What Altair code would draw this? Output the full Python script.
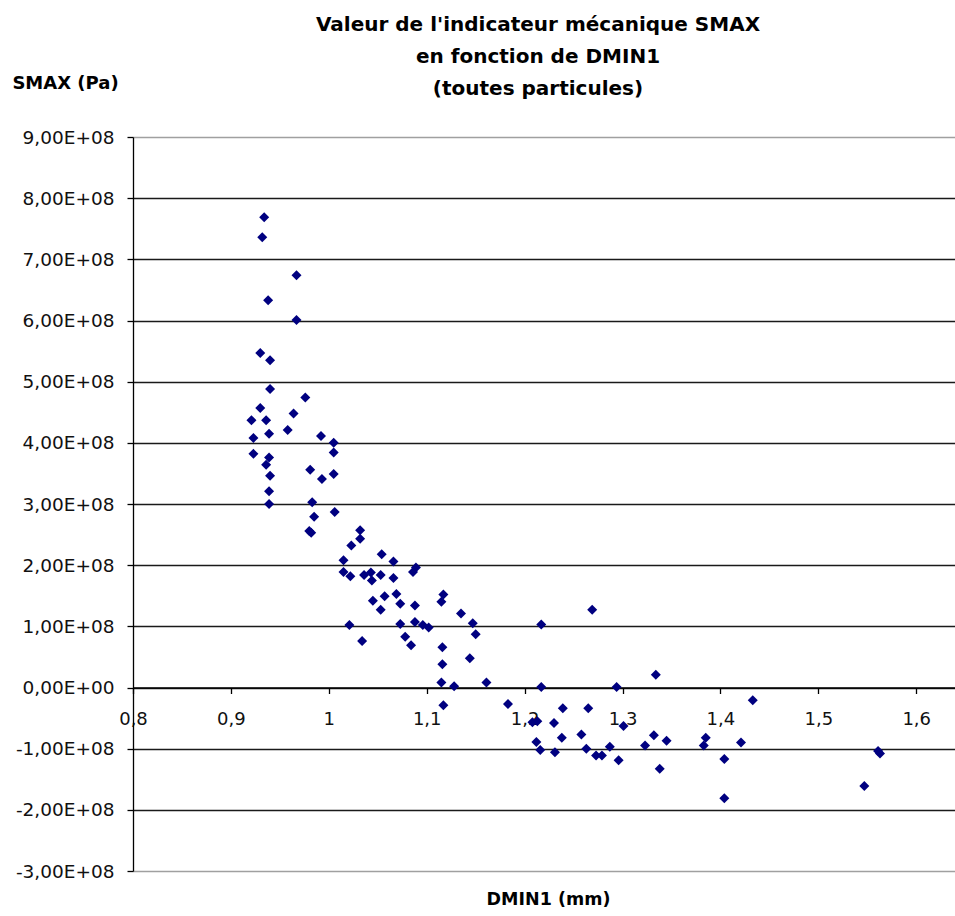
import altair as alt
import pandas as pd

# DMIN1 (mm) and SMAX (Pa) for every particle
dmin1 = [
    0.934, 0.932, 0.967, 0.938, 0.967, 0.930, 0.940, 0.940, 0.976, 0.930,
    0.964, 0.921, 0.936, 0.958, 0.939, 0.923, 0.992, 1.005, 1.005, 0.923,
    0.939, 0.936, 0.981, 0.940, 0.993, 1.005, 0.939, 0.939, 0.983, 0.985,
    1.006, 0.980, 0.982, 1.032, 1.032, 1.023, 1.054, 1.015, 1.066, 1.089,
    1.086, 1.015, 1.022, 1.036, 1.043, 1.044, 1.053, 1.066, 1.069, 1.057,
    1.045, 1.073, 1.088, 1.053, 1.117, 1.115, 1.135, 1.021, 1.073, 1.088,
    1.096, 1.102, 1.147, 1.150, 1.034, 1.078, 1.084, 1.116, 1.116, 1.144,
    1.115, 1.128, 1.161, 1.117, 1.183, 1.269, 1.217, 1.217, 1.294, 1.334,
    1.239, 1.265, 1.208, 1.213, 1.230, 1.301, 1.212, 1.238, 1.258, 1.332,
    1.345, 1.216, 1.231, 1.263, 1.273, 1.279, 1.287, 1.296, 1.323, 1.338,
    1.433, 1.385, 1.383, 1.421, 1.404, 1.404, 1.561, 1.563, 1.547,
]
smax = [
    7.69e8, 7.36e8, 6.74e8, 6.33e8, 6.01e8, 5.47e8, 5.35e8, 4.88e8, 4.74e8, 4.57e8,
    4.48e8, 4.37e8, 4.37e8, 4.21e8, 4.15e8, 4.08e8, 4.11e8, 4.00e8, 3.84e8, 3.82e8,
    3.76e8, 3.64e8, 3.56e8, 3.46e8, 3.41e8, 3.49e8, 3.21e8, 3.00e8, 3.03e8, 2.79e8,
    2.87e8, 2.56e8, 2.53e8, 2.57e8, 2.43e8, 2.32e8, 2.18e8, 2.08e8, 2.06e8, 1.96e8,
    1.89e8, 1.89e8, 1.82e8, 1.84e8, 1.88e8, 1.75e8, 1.84e8, 1.79e8, 1.53e8, 1.49e8,
    1.42e8, 1.37e8, 1.34e8, 1.27e8, 1.52e8, 1.40e8, 1.21e8, 1.02e8, 1.04e8, 1.07e8,
    1.02e8, 0.98e8, 1.05e8, 0.87e8, 0.76e8, 0.83e8, 0.69e8, 0.66e8, 0.38e8, 0.48e8,
    0.08e8, 0.02e8, 0.08e8, -0.29e8, -0.27e8, 1.27e8, 1.03e8, 0.01e8, 0.01e8, 0.21e8,
    -0.34e8, -0.34e8, -0.57e8, -0.55e8, -0.58e8, -0.63e8, -0.89e8, -0.82e8, -0.77e8, -0.78e8,
    -0.87e8, -1.02e8, -1.06e8, -1.00e8, -1.11e8, -1.11e8, -0.97e8, -1.19e8, -0.95e8, -1.33e8,
    -0.21e8, -0.82e8, -0.95e8, -0.90e8, -1.17e8, -1.81e8, -1.04e8, -1.08e8, -1.61e8,
]

x_ticks = [0.8, 0.9, 1.0, 1.1, 1.2, 1.3, 1.4, 1.5, 1.6]
y_ticks = [-3e8, -2e8, -1e8, 0, 1e8, 2e8, 3e8, 4e8, 5e8, 6e8, 7e8, 8e8, 9e8]

title_lines = [
    "Valeur de l'indicateur mécanique SMAX",
    "en fonction de DMIN1",
    "(toutes particules)",
]

FONT = "DejaVu Sans"
W, H = 822, 734
X_DOMAIN = [0.8, 1.6396]
Y_DOMAIN = [-3e8, 9e8]
# the category axis crosses the value axis at SMAX = 0
zero_offset = -H * (0 - Y_DOMAIN[0]) / (Y_DOMAIN[1] - Y_DOMAIN[0])

df = pd.DataFrame({"DMIN1": dmin1, "SMAX": smax})

chart = (
    alt.Chart(df)
    .mark_point(shape="diamond", filled=True, size=100, color="#000080", opacity=1)
    .encode(
        x=alt.X(
            "DMIN1:Q",
            scale=alt.Scale(domain=X_DOMAIN, nice=False, zero=False),
            axis=alt.Axis(
                values=x_ticks,
                grid=False,
                offset=zero_offset,
                domainColor="#000000",
                domainWidth=1.3,
                tickColor="#000000",
                tickWidth=1.3,
                tickSize=6,
                labelExpr="replace(format(datum.value, '.1~f'), '.', ',')",
                labelFont=FONT,
                labelFontSize=18,
                labelColor="#111111",
                labelPadding=17,
                labelOverlap=False,
                labelFlush=False,
                title="DMIN1 (mm)",
                titleFont=FONT,
                titleFontSize=17.5,
                titleFontWeight="bold",
                titleColor="#000000",
                titleX=415,
                titleY=212,
                titleAlign="center",
                titleBaseline="middle",
            ),
        ),
        y=alt.Y(
            "SMAX:Q",
            scale=alt.Scale(domain=Y_DOMAIN, nice=False, zero=False),
            axis=alt.Axis(
                values=y_ticks,
                grid=True,
                gridColor={
                    "condition": {
                        "test": "datum.value > 8.9e8 || datum.value < -2.9e8",
                        "value": "#a0a0a0",
                    },
                    "value": "#1a1a1a",
                },
                gridWidth=1.3,
                domainColor="#000000",
                domainWidth=1.3,
                tickColor="#000000",
                tickWidth=1.3,
                tickSize=6,
                labelExpr=(
                    "datum.value == 0 ? '0,00E+00' : "
                    "(datum.value < 0 ? '-' : '') + "
                    "replace(format(abs(datum.value) / 1e8, '.2f'), '.', ',') + 'E+08'"
                ),
                labelFont=FONT,
                labelFontSize=18.5,
                labelColor="#111111",
                labelPadding=13,
                labelOverlap=False,
                labelFlush=False,
                title="SMAX (Pa)",
                titleFont=FONT,
                titleFontSize=18,
                titleFontWeight="bold",
                titleColor="#000000",
                titleAngle=0,
                titleX=-68,
                titleY=-54,
                titleAlign="center",
                titleBaseline="middle",
            ),
        ),
    )
    .properties(
        width=W,
        height=H,
        title=alt.TitleParams(
            text=title_lines,
            font=FONT,
            fontSize=20,
            fontWeight="bold",
            color="#000000",
            lineHeight=32,
            anchor="middle",
            dx=-6,
            offset=-25,
        ),
        autosize=alt.AutoSizeParams(type="none"),
        padding={"left": 133, "top": 137, "right": 0, "bottom": 45},
        background="white",
    )
    .configure_view(stroke=None)
)

chart.save("out.html", embed_options={"renderer": "svg", "actions": False})
